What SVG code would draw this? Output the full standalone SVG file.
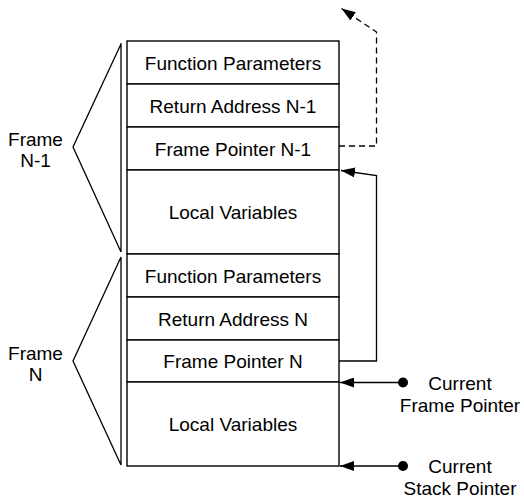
<svg xmlns="http://www.w3.org/2000/svg" width="524" height="499" viewBox="0 0 524 499">
<style>
.cell{fill:#fff;stroke:#000;stroke-width:1.4}
.t{font-family:"Liberation Sans",Arial,sans-serif;font-size:19px;fill:#000;text-anchor:middle}
.br{fill:none;stroke:#000;stroke-width:1.3}
.cn{fill:none;stroke:#000;stroke-width:1.3}
.dash{stroke-dasharray:6 4}
</style>
<defs>
<marker id="ah" viewBox="0 0 14 10" refX="14" refY="5" markerWidth="14" markerHeight="10" markerUnits="userSpaceOnUse" orient="auto">
<path d="M0,0 L14,5 L0,10 z" fill="#000"/>
</marker>
</defs>
<rect width="524" height="499" fill="#fff"/>
<g id="frame-n1-params"><rect class="cell" x="127" y="41" width="212" height="43"/><text class="t" x="233" y="69.5">Function Parameters</text></g>
<g id="frame-n1-ret"><rect class="cell" x="127" y="84" width="212" height="43"/><text class="t" x="233" y="112.5">Return Address N-1</text></g>
<g id="frame-n1-fp"><rect class="cell" x="127" y="127" width="212" height="43"/><text class="t" x="233" y="155.5">Frame Pointer N-1</text></g>
<g id="frame-n1-locals"><rect class="cell" x="127" y="170" width="212" height="84"/><text class="t" x="233" y="219">Local Variables</text></g>
<g id="frame-n-params"><rect class="cell" x="127" y="254" width="212" height="43"/><text class="t" x="233" y="282.5">Function Parameters</text></g>
<g id="frame-n-ret"><rect class="cell" x="127" y="297" width="212" height="43"/><text class="t" x="233" y="325.5">Return Address N</text></g>
<g id="frame-n-fp"><rect class="cell" x="127" y="340" width="212" height="42"/><text class="t" x="233" y="368">Frame Pointer N</text></g>
<g id="frame-n-locals"><rect class="cell" x="127" y="382" width="212" height="84"/><text class="t" x="233" y="431">Local Variables</text></g>
<g id="bracket-n1">
<path class="br" d="M121,43 L121,252 M121,44 L73,147 L121,252"/>
<text class="t" x="35.5" y="146">Frame</text>
<text class="t" x="35.5" y="167">N-1</text>
</g>
<g id="bracket-n">
<path class="br" d="M121,257 L121,465 M121,257 L73,361 L121,465"/>
<text class="t" x="35.5" y="359.5">Frame</text>
<text class="t" x="35.5" y="381">N</text>
</g>
<g id="current-fp">
<circle cx="403" cy="382.5" r="5" fill="#000"/>
<text class="t" x="460" y="389.5">Current</text>
<text class="t" x="460" y="411.5">Frame Pointer</text>
</g>
<g id="current-sp">
<circle cx="403" cy="466" r="5" fill="#000"/>
<text class="t" x="460" y="473">Current</text>
<text class="t" x="460" y="495">Stack Pointer</text>
</g>
<g id="connectors">
<path class="cn dash" d="M339,146 L376.5,146 L376.5,32 L341.5,8.5" marker-end="url(#ah)"/>
<path class="cn" d="M339,361 L376.5,361 L376.5,175.5 L341,170.5" marker-end="url(#ah)"/>
<path class="cn" d="M403,382.5 L340,382.5" marker-end="url(#ah)"/>
<path class="cn" d="M403,466 L340,466" marker-end="url(#ah)"/>
</g>
</svg>
